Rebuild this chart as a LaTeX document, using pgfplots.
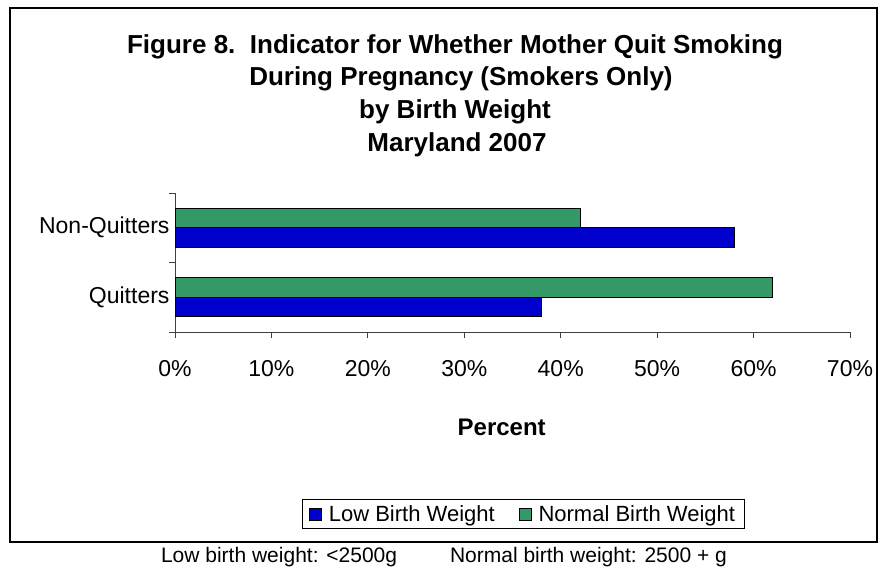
\documentclass[border=0pt]{standalone}
\usepackage{fontspec}
\setmainfont{Liberation Sans}
\usepackage{pgfplots}
\pgfplotsset{compat=1.18}
\definecolor{lbw}{RGB}{0,0,204}
\definecolor{nbw}{RGB}{51,153,102}
\begin{document}
\begin{tikzpicture}[x=1pt,y=1pt]
\useasboundingbox (0,0) rectangle (880,-569);
\draw[line width=1.2pt] (10,-8) rectangle (877,-542);
\tikzset{ttl/.style={font=\fontsize{26}{30}\selectfont\bfseries, anchor=base, inner sep=0pt}}
\node[ttl] at (455,-54) {Figure 8.\ \ Indicator for Whether Mother Quit Smoking};
\node[ttl] at (461,-86) {During Pregnancy (Smokers Only)};
\node[ttl] at (455,-119) {by Birth Weight};
\node[ttl] at (457,-152) {Maryland 2007};
\begin{axis}[
  at={(175pt,-332pt)}, anchor=south west,
  scale only axis, width=675pt, height=139pt,
  xmin=0, xmax=70, ymin=-0.5, ymax=1.5,
  separate axis lines,
  axis x line=bottom, axis y line=left,
  axis line style={-, draw=black!75, line width=1pt},
  tick align=outside,
  major tick length=6pt,
  every tick/.style={draw=black!75, line width=1pt},
  xtick={0,10,...,70},
  xticklabel={\pgfmathprintnumber{\tick}\%},
  ytick={-0.5,0.5,1.5}, yticklabels={},
  extra y ticks={0,1},
  extra y tick labels={Quitters,Non-Quitters},
  extra y tick style={major tick length=0pt},
  /pgf/number format/assume math mode=true,
  ticklabel style={font=\fontsize{23}{27}\selectfont},
  xticklabel style={yshift=-19pt},
  yticklabel style={xshift=-2pt},
  xlabel={Percent},
  xlabel style={at={(axis description cs:0.484,0)}, anchor=center, yshift=-95pt, font=\fontsize{24}{28}\selectfont\bfseries},
  legend columns=2,
  legend style={at={(axis description cs:0.5156,-1.31)}, anchor=center, draw=black, line width=0.8pt,
    font=\fontsize{22}{25}\selectfont, inner xsep=7pt, inner ysep=4pt,
    /tikz/every odd column/.append style={column sep=5pt},
    /tikz/every even column/.append style={column sep=22pt}},
  legend image code/.code={\draw[#1, draw=black, line width=0.8pt] (0pt,-6pt) rectangle (12pt,6pt);},
]
\addplot[xbar, fill=lbw, draw=black, line width=0.8pt, bar width=19.5pt, bar shift=-9.75pt] coordinates {(38,0) (58,1)};
\addplot[xbar, fill=nbw, draw=black, line width=0.8pt, bar width=19.5pt, bar shift=9.75pt] coordinates {(62,0) (42,1)};
\legend{Low Birth Weight, Normal Birth Weight\hspace{35pt}}
\end{axis}
\node[font=\fontsize{21}{24}\selectfont, anchor=base] at (444,-562) {Low birth weight: <2500g\hspace{53pt}Normal birth weight: 2500 + g};
\end{tikzpicture}
\end{document}
